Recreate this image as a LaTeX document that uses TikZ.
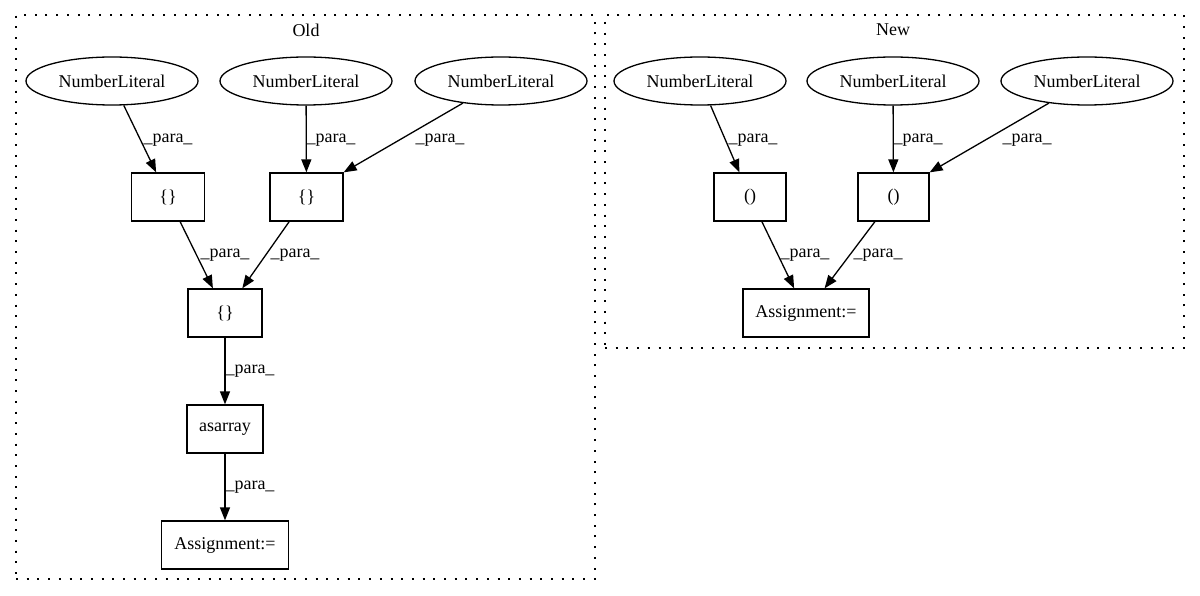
\documentclass[tikz,border=0pt]{standalone}
\usepackage{fontspec}
\setmainfont{Liberation Serif}
\usetikzlibrary{shapes.geometric,arrows.meta}
\begin{document}
\begin{tikzpicture}[x=1pt,y=-1pt,
  every node/.style={font=\fontsize{18}{20}\selectfont},
  lit/.style={draw, ellipse, line width=1.3pt, minimum width=172pt, minimum height=48pt, inner sep=0pt},
  box/.style={draw, rectangle, line width=1.3pt, minimum height=48pt, inner sep=0pt},
  conn/.style={draw, line width=1.3pt, -{Triangle[length=13pt,width=10pt]}},
  lab/.style={inner sep=0pt},
  cluster/.style={draw, line width=1.3pt, dash pattern=on 2pt off 8.7pt, inner sep=0pt},
]
\useasboundingbox (0,0) rectangle (1200,596);

% clusters
\node[cluster, minimum width=579pt, minimum height=564pt] (old) at (305.5,297) {};
\node[cluster, minimum width=579pt, minimum height=333pt] (new) at (894.5,181.5) {};
\node (oldlbl) at (306,30) {Old};
\node (newlbl) at (893,30) {New};

% Old
\node[lit] (e1) at (112,81) {NumberLiteral};
\node[lit] (e2) at (306,81) {NumberLiteral};
\node[lit] (e3) at (501,81) {NumberLiteral};
\node[box, minimum width=73pt] (b1) at (168,197) {\{\}};
\node[box, minimum width=73pt] (b2) at (306.5,197) {\{\}};
\node[box, minimum width=74pt] (b3) at (225,313) {\{\}};
\node[box, minimum width=76pt] (as) at (225,429) {asarray};
\node[box, minimum width=127pt] (asg) at (225,545) {Assignment:=};

\draw[conn] (e1) -- (b1) node[lab] at (168,140) {\_para\_};
\draw[conn] (e2) -- (b2) node[lab] at (331,140) {\_para\_};
\draw[conn] (e3) -- (b2.north east) node[lab] at (440,140) {\_para\_};
\draw[conn] (b1) -- (b3) node[lab] at (225,255) {\_para\_};
\draw[conn] (b2) -- (b3) node[lab] at (295,255) {\_para\_};
\draw[conn] (b3) -- (as) node[lab] at (250,371) {\_para\_};
\draw[conn] (as) -- (asg) node[lab] at (250,487) {\_para\_};

% New
\node[lit] (nA) at (700,81) {NumberLiteral};
\node[lit] (nB) at (893,81) {NumberLiteral};
\node[lit] (nC) at (1087,81) {NumberLiteral};
\node[box, minimum width=72pt] (pA) at (750,197) {()};
\node[box, minimum width=71pt] (pB) at (893.5,197) {()};
\node[box, minimum width=126pt] (asg2) at (806,313) {Assignment:=};

\draw[conn] (nA) -- (pA) node[lab] at (753,140) {\_para\_};
\draw[conn] (nB) -- (pB) node[lab] at (918,140) {\_para\_};
\draw[conn] (nC) -- (pB.north east) node[lab] at (1027,140) {\_para\_};
\draw[conn] (pA) -- (asg2) node[lab] at (805,255) {\_para\_};
\draw[conn] (pB) -- (asg2) node[lab] at (878,255) {\_para\_};
\end{tikzpicture}
\end{document}
